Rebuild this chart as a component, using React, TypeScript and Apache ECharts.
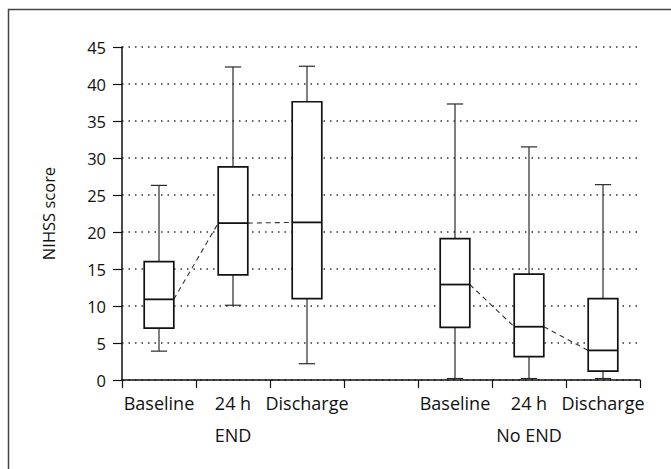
import React, { useEffect, useRef } from "react";
import * as echarts from "echarts";

const categories = ["Baseline", "24 h", "Discharge", "", "Baseline", "24 h", "Discharge"];
const groupLabels = ["", "END", "", "", "", "No END", ""];
const yTicks = { min: 0, max: 45, interval: 5 };

// [categoryIndex, low, q1, median, q3, high]
const endBaseline = [0, 3.9, 7.0, 10.9, 16.0, 26.3];
const end24h = [1, 10.1, 14.2, 21.2, 28.8, 42.3];
const endDischarge = [2, 2.2, 11.0, 21.3, 37.6, 42.4];
const noEndBaseline = [4, 0.2, 7.1, 12.9, 19.1, 37.3];
const noEnd24h = [5, 0.2, 3.15, 7.2, 14.3, 31.5];
const noEndDischarge = [6, 0.2, 1.2, 4.0, 11.0, 26.4];

const boxes = [endBaseline, end24h, endDischarge, noEndBaseline, noEnd24h, noEndDischarge];

// median connections: [fromIndex, fromMedian, toIndex, toMedian]
const medianLinks = [
  [endBaseline[0], endBaseline[3], end24h[0], end24h[3]],
  [end24h[0], end24h[3], endDischarge[0], endDischarge[3]],
  [noEndBaseline[0], noEndBaseline[3], noEnd24h[0], noEnd24h[3]],
  [noEnd24h[0], noEnd24h[3], noEndDischarge[0], noEndDischarge[3]],
];

const FONT = "'Open Sans', 'Liberation Sans', Arial, sans-serif";
const BOX_FRAC = 0.4;
const CAP_FRAC = 0.22;

export default function App() {
  const ref = useRef<HTMLDivElement>(null);

  useEffect(() => {
    if (!ref.current) return;
    const chart = echarts.init(ref.current, null, { renderer: "svg" });

    const option: any = {
      animation: false,
      backgroundColor: "#ffffff",
      grid: { left: 122, right: 31, top: 47, bottom: 89, containLabel: false },
      graphic: [
        {
          type: "rect",
          shape: { x: 8.5, y: 9.5, width: 720, height: 520 },
          style: { fill: "none", stroke: "#444", lineWidth: 1.5 },
          silent: true,
          z: -10,
        },
      ],
      xAxis: [
        {
          type: "category",
          data: categories,
          position: "bottom",
          boundaryGap: true,
          axisLine: { show: true, lineStyle: { color: "#111", width: 1.5 } },
          axisTick: { show: true, length: 8, interval: 0, lineStyle: { color: "#111", width: 1.2 } },
          axisLabel: { interval: 0, margin: 14, color: "#111", fontSize: 18, fontFamily: FONT },
          splitLine: { show: false },
        },
        {
          type: "category",
          data: groupLabels,
          position: "bottom",
          offset: 0,
          boundaryGap: true,
          axisLine: { show: false },
          axisTick: { show: false },
          axisLabel: { interval: 0, margin: 46, color: "#111", fontSize: 18, fontFamily: FONT },
          splitLine: { show: false },
        },
      ],
      yAxis: {
        type: "value",
        min: yTicks.min,
        max: yTicks.max,
        interval: yTicks.interval,
        name: "NIHSS score",
        nameLocation: "middle",
        nameGap: 65,
        nameRotate: 90,
        nameTextStyle: { color: "#111", fontSize: 16.5, fontFamily: FONT },
        axisLine: { show: true, lineStyle: { color: "#111", width: 1.5 } },
        axisTick: { show: true, length: 9, lineStyle: { color: "#111", width: 1.2 } },
        axisLabel: { margin: 16, color: "#111", fontSize: 16.5, fontFamily: FONT },
        splitLine: {
          show: true,
          lineStyle: { color: "#333", width: 1.5, type: [1.5, 5] },
        },
      },
      series: [
        {
          type: "custom",
          name: "links",
          xAxisIndex: 0,
          yAxisIndex: 0,
          data: medianLinks,
          renderItem: (params: any, api: any) => {
            const bw = api.size([1, 0])[0] * BOX_FRAC;
            const a = api.coord([api.value(0), api.value(1)]);
            const b = api.coord([api.value(2), api.value(3)]);
            return {
              type: "line",
              shape: { x1: a[0] + bw / 2, y1: a[1], x2: b[0] - bw / 2, y2: b[1] },
              style: { stroke: "#333", lineWidth: 1.1, lineDash: [5, 4], fill: "none" },
            };
          },
          z: 2,
        },
        {
          type: "custom",
          name: "boxes",
          xAxisIndex: 0,
          yAxisIndex: 0,
          data: boxes,
          renderItem: (params: any, api: any) => {
            const idx = api.value(0);
            const band = api.size([1, 0])[0];
            const bw = band * BOX_FRAC;
            const cw = band * CAP_FRAC;
            const low = api.coord([idx, api.value(1)]);
            const q1 = api.coord([idx, api.value(2)]);
            const med = api.coord([idx, api.value(3)]);
            const q3 = api.coord([idx, api.value(4)]);
            const high = api.coord([idx, api.value(5)]);
            const cx = low[0];
            const wStyle = { stroke: "#2a2a2a", lineWidth: 1.2, fill: "none" };
            return {
              type: "group",
              children: [
                { type: "line", shape: { x1: cx, y1: high[1], x2: cx, y2: q3[1] }, style: wStyle },
                { type: "line", shape: { x1: cx, y1: q1[1], x2: cx, y2: low[1] }, style: wStyle },
                { type: "line", shape: { x1: cx - cw / 2, y1: high[1], x2: cx + cw / 2, y2: high[1] }, style: wStyle },
                { type: "line", shape: { x1: cx - cw / 2, y1: low[1], x2: cx + cw / 2, y2: low[1] }, style: wStyle },
                {
                  type: "rect",
                  shape: { x: cx - bw / 2, y: q3[1], width: bw, height: q1[1] - q3[1] },
                  style: { fill: "#ffffff", stroke: "#111", lineWidth: 1.7 },
                },
                {
                  type: "line",
                  shape: { x1: cx - bw / 2, y1: med[1], x2: cx + bw / 2, y2: med[1] },
                  style: { stroke: "#111", lineWidth: 1.8, fill: "none" },
                },
              ],
            };
          },
          z: 3,
        },
      ],
    };

    chart.setOption(option);
    return () => chart.dispose();
  }, []);

  return (
    <div
      ref={ref}
      style={{ position: "fixed", left: 0, top: 0, width: 671, height: 469, background: "#fff" }}
    />
  );
}
